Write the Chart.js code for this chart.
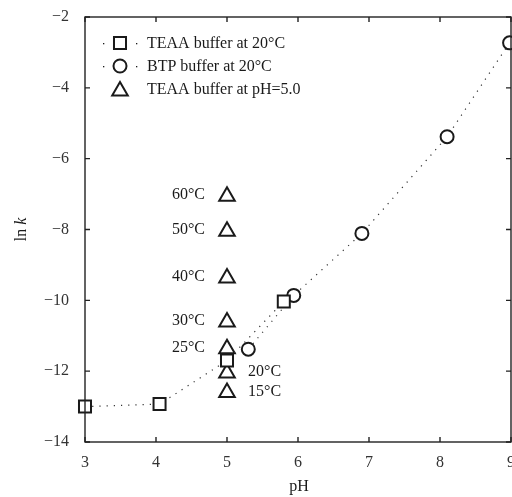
<!DOCTYPE html>
<html>
<head>
<meta charset="utf-8">
<script src="https://cdn.jsdelivr.net/npm/chart.js@4/dist/chart.umd.min.js"></script>
<style>
  html, body { margin: 0; padding: 0; background: #fff; }
  #c { display: block; }
</style>
</head>
<body>
<canvas id="c" width="512" height="497"></canvas>
<script>
// TEAA buffer at 20°C
const teaaPH = [3.0, 4.05, 5.0, 5.8];
const teaaLnK = [-13.0, -12.93, -11.7, -10.03];

// BTP buffer at 20°C
const btpPH = [5.3, 5.94, 6.9, 8.1, 8.98];
const btpLnK = [-11.38, -9.86, -8.11, -5.38, -2.73];

// TEAA buffer at pH=5.0, different temperatures
const tempPH = [5.0, 5.0, 5.0, 5.0, 5.0, 5.0, 5.0];
const tempLnK = [-7.06, -8.05, -9.37, -10.61, -11.37, -12.05, -12.6];
const tempLabels = ['60°C', '50°C', '40°C', '30°C', '25°C', '20°C', '15°C'];
const tempLabelSide = ['left', 'left', 'left', 'left', 'left', 'right', 'right'];

const xTicks = [3, 4, 5, 6, 7, 8, 9];
const yTicks = [-14, -12, -10, -8, -6, -4, -2];

const legendLabels = ['TEAA buffer at 20°C', 'BTP buffer at 20°C', 'TEAA buffer at pH=5.0'];

const ink = '#1a1a1a';
const serif = '"Liberation Serif", "DejaVu Serif", serif';

function toPoints(xs, ys) {
    return xs.map((x, i) => ({ x: x, y: ys[i] }));
}

const framePlugin = {
    id: 'frame',
    afterDraw(chart) {
        const ctx = chart.ctx;
        const a = chart.chartArea;
        const xs = chart.scales.x;
        const ys = chart.scales.y;
        ctx.save();
        ctx.strokeStyle = '#222';
        ctx.lineWidth = 1.4;
        ctx.strokeRect(a.left, a.top, a.right - a.left, a.bottom - a.top);

        // inward ticks on all four sides
        const tl = 5;
        ctx.beginPath();
        xTicks.forEach(v => {
            const px = xs.getPixelForValue(v);
            ctx.moveTo(px, a.bottom); ctx.lineTo(px, a.bottom - tl);
            ctx.moveTo(px, a.top); ctx.lineTo(px, a.top + tl);
        });
        yTicks.forEach(v => {
            const py = ys.getPixelForValue(v);
            ctx.moveTo(a.left, py); ctx.lineTo(a.left + tl, py);
            ctx.moveTo(a.right, py); ctx.lineTo(a.right - tl, py);
        });
        ctx.stroke();

        // temperature labels next to the triangles
        ctx.fillStyle = ink;
        ctx.font = '16px ' + serif;
        ctx.textBaseline = 'middle';
        tempLabels.forEach((t, i) => {
            const px = xs.getPixelForValue(tempPH[i]);
            const py = ys.getPixelForValue(tempLnK[i]) - 2;
            if (tempLabelSide[i] === 'left') {
                ctx.textAlign = 'right';
                ctx.fillText(t, px - 22, py + 1);
            } else {
                ctx.textAlign = 'left';
                ctx.fillText(t, px + 21, py + 1);
            }
        });

        // legend inside the plot
        const styles = ['rect', 'circle', 'triangle'];
        const radii = [8.5, 6.5, 9];
        const lx = a.left + 35;
        const rowY = [a.top + 26, a.top + 49, a.top + 72];
        legendLabels.forEach((label, i) => {
            const y = rowY[i];
            if (i < 2) {
                ctx.fillStyle = ink;
                ctx.fillRect(lx - 17, y, 1.3, 1.3);
                ctx.fillRect(lx + 16, y, 1.3, 1.3);
            }
            ctx.save();
            ctx.strokeStyle = ink;
            ctx.fillStyle = '#fff';
            ctx.lineWidth = 2;
            Chart.helpers.drawPoint(ctx, { pointStyle: styles[i], radius: radii[i], rotation: 0, borderWidth: 2 },
                lx, i === 2 ? y + 2 : y);
            ctx.restore();
            ctx.fillStyle = ink;
            ctx.textAlign = 'left';
            ctx.fillText(label, lx + 27, y + 1);
        });

        // axis titles
        ctx.textAlign = 'center';
        ctx.fillText('pH', (a.left + a.right) / 2 + 1, 487);

        ctx.save();
        ctx.translate(22, ys.getPixelForValue(-8));
        ctx.rotate(-Math.PI / 2);
        ctx.textAlign = 'left';
        const w1 = ctx.measureText('ln ').width;
        ctx.font = 'italic 16px ' + serif;
        const w2 = ctx.measureText('k').width;
        const start = -(w1 + w2) / 2;
        ctx.font = '16px ' + serif;
        ctx.fillText('ln ', start, 0);
        ctx.font = 'italic 16px ' + serif;
        ctx.fillText('k', start + w1, 0);
        ctx.restore();

        ctx.restore();
    }
};

const dotted = {
    showLine: true,
    borderColor: '#333',
    borderWidth: 1.2,
    borderDash: [1.2, 6],
    tension: 0,
    clip: false
};

new Chart(document.getElementById('c'), {
    type: 'scatter',
    data: {
        datasets: [
            Object.assign({
                label: legendLabels[0],
                data: toPoints(teaaPH, teaaLnK),
                pointStyle: 'rect',
                pointRadius: 8.5,
                pointBorderColor: ink,
                pointBackgroundColor: '#fff',
                pointBorderWidth: 2
            }, dotted),
            Object.assign({
                label: legendLabels[1],
                data: toPoints(btpPH, btpLnK),
                pointStyle: 'circle',
                pointRadius: 6.5,
                pointBorderColor: ink,
                pointBackgroundColor: '#fff',
                pointBorderWidth: 2
            }, dotted),
            {
                label: legendLabels[2],
                data: toPoints(tempPH, tempLnK),
                showLine: false,
                clip: false,
                pointStyle: 'triangle',
                pointRadius: 9,
                pointBorderColor: ink,
                pointBackgroundColor: '#fff',
                pointBorderWidth: 2
            }
        ]
    },
    options: {
        responsive: false,
        animation: false,
        devicePixelRatio: 1,
        layout: { autoPadding: false, padding: { top: 17, right: 1, left: 0, bottom: 0 } },
        plugins: {
            legend: { display: false },
            tooltip: { enabled: false }
        },
        scales: {
            x: {
                type: 'linear',
                min: 3,
                max: 9,
                afterFit: s => { s.height = 55; s.paddingLeft = 0; s.paddingRight = 0; },
                afterBuildTicks: s => { s.ticks = xTicks.map(v => ({ value: v })); },
                grid: { display: false, drawTicks: false },
                border: { display: false },
                ticks: {
                    padding: 11,
                    color: '#333',
                    font: { family: serif, size: 16 },
                    callback: v => String(v)
                }
            },
            y: {
                type: 'linear',
                min: -14,
                max: -2,
                afterFit: s => { s.width = 85; s.paddingTop = 0; s.paddingBottom = 0; },
                afterBuildTicks: s => { s.ticks = yTicks.map(v => ({ value: v })); },
                grid: { display: false, drawTicks: false },
                border: { display: false },
                ticks: {
                    padding: 16,
                    color: '#333',
                    font: { family: serif, size: 16 },
                    callback: v => String(v).replace('-', '\u2212')
                }
            }
        }
    },
    plugins: [framePlugin]
});
</script>
</body>
</html>
